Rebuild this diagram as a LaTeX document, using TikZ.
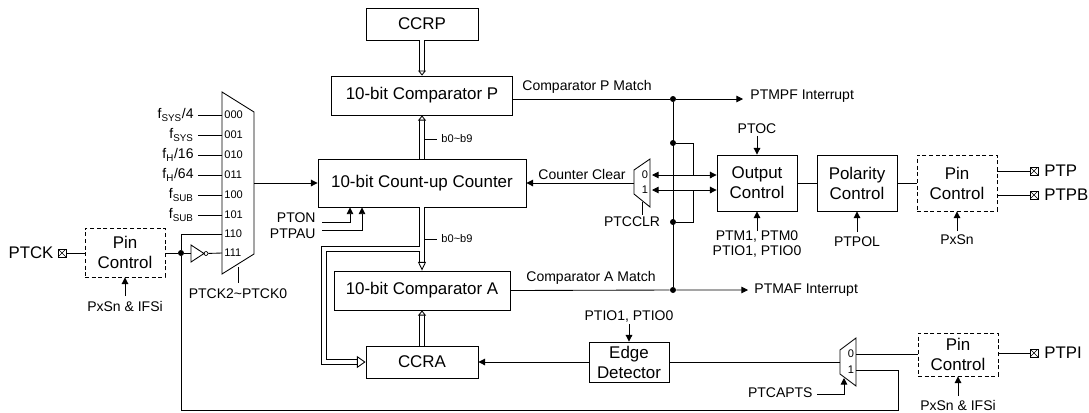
\documentclass[tikz,border=0pt]{standalone}
\usepackage{fontspec}
\setmainfont{Liberation Sans}
\usetikzlibrary{arrows.meta}
\tikzset{
  blk/.style 2 args={draw, font=\fontsize{12.7}{15}\selectfont, align=center, inner sep=0pt, minimum width=#1*0.75pt, minimum height=#2*0.75pt},
  pinbox/.style={blk={80}{#1}, dashed, dash pattern=on 3pt off 2pt},
  lbl/.style={font=\fontsize{10.5}{10.5}\selectfont, inner sep=0pt, align=center},
  bigl/.style={font=\fontsize{12.6}{14}\selectfont, inner sep=0pt},
  muxnum/.style={font=\fontsize{8.3}{9}\selectfont, inner sep=0pt},
  pad/.style={draw, minimum size=6pt, inner sep=0pt, line width=.5pt,
    path picture={\draw[line width=.4pt] (path picture bounding box.north west) -- (path picture bounding box.south east)
      (path picture bounding box.north east) -- (path picture bounding box.south west);}},
  dot/.style={circle, fill, inner sep=0pt, minimum size=4.5pt},
  wire/.style={-{Triangle[length=5pt,width=5pt]}},
  bus/.style 2 args={double, double distance=2.7pt, -{Triangle[open,fill=white,length=#1pt,width=#2pt,line width=.65pt]}}
}
\begin{document}
\begin{tikzpicture}[x=0.75pt, y=-0.75pt, line width=.65pt]
\useasboundingbox (0,0) rectangle (1089,412);
% blocks
\node[blk={112}{32}] (ccrp) at (422,24) {CCRP};
\node[blk={181}{39}] (cmpP) at (422,95.5) {10-bit Comparator P};
\node[blk={208}{48}] (ctr) at (422,183) {10-bit Count-up Counter};
\node[blk={176}{39}] (cmpA) at (422,290.5) {10-bit Comparator A};
\node[blk={112}{32}] (ccra) at (422,362) {CCRA};
\node[blk={80}{40}] (edge) at (629,362) {Edge\\Detector};
\node[blk={80}{56}] (outc) at (757,183) {Output\\Control};
\node[blk={80}{56}] (polc) at (857,183) {Polarity\\Control};
\node[pinbox=56] (pinO) at (957,183) {Pin\\Control};
\node[pinbox=43] (pinI) at (958,354.5) {Pin\\Control};
\node[pinbox=49] (pinC) at (125,252.5) {Pin\\Control};
% clock mux
\coordinate (mA) at (222,92); \coordinate (mB) at (254,112);
\coordinate (mC) at (254,254); \coordinate (mD) at (222,274);
\draw (mA) -- (mB) -- (mC) -- (mD) -- cycle;
\coordinate (mOut) at (254,183);
\draw[wire] (mOut) -- (ctr.west);
\foreach \yy/\sel/\txt in {115/000/{f\textsubscript{SYS}/4}, 135/001/{f\textsubscript{SYS}}, 155/010/{f\textsubscript{H}/16}, 175/011/{f\textsubscript{H}/64}, 195/100/{f\textsubscript{SUB}}, 215/101/{f\textsubscript{SUB}}}{
  \node[lbl, anchor=east] (clk\sel) at (194,\yy) {\txt};
  \coordinate (in\sel) at (222,\yy);
  \draw (198,\yy) -- (in\sel);
  \node[muxnum, anchor=west] (num\sel) at (224,\yy) {\sel};
}
\node[muxnum, anchor=west] (num110) at (224,234) {110};
\node[muxnum, anchor=west] (num111) at (224,253) {111};
\node[lbl] (ptck2) at (238,294) {PTCK2\textasciitilde PTCK0};
\draw (238,267) -- (238,283);
% PTCK input
\node[bigl] (ptckL) at (31,252.5) {PTCK};
\node[pad] (padC) at (62,253) {};
\node[dot] (jC) at (181,253) {};
\node[lbl] (ifsC) at (125,306) {PxSn \& IFSi};
\draw (padC) -- (padC -| pinC.west);
\draw (pinC.east |- jC) -- (jC) -- (191,253);
\draw (jC) -- (181,234) -- (222,234);
\draw (191,245) -- (204,253.5) -- (191,262) -- cycle;
\node[draw, circle, inner sep=0pt, minimum size=3pt, line width=.5pt] (bub) at (206,253.5) {};
\draw (bub) -- (222,253);
\draw[wire] (125,296) -- (pinC.south);
% return line
\coordinate (rA) at (181,410); \coordinate (rB) at (898,410);
\draw (jC) -- (rA) -- (rB) -- (898,370) -- (856,370);
% count enable
\node[lbl, anchor=east] (pton) at (316,218) {PTON};
\node[lbl, anchor=east] (ptpau) at (316,234) {PTPAU};
\draw[wire] (322,222) -- (350,222) -- (350,207.5);
\draw[wire] (322,230) -- (362,230) -- (362,207.5);
% buses
\draw[bus={3.8}{6}] (ccrp.south) -- (cmpP.north);
\draw[bus={3.8}{6}] (ctr.north) -- (cmpP.south);
\draw[bus={3.8}{6}] (ccra.north) -- (cmpA.south);
\draw[bus={6.5}{6}] (ctr.south) -- (cmpA.north);
\draw[bus={6.5}{9}] (420.4,249) -- (324,249) -- (324,362) -- (ccra.west);
\node[muxnum] (bUp) at (457,139) {b0\textasciitilde b9};
\node[muxnum] (bDn) at (457,239) {b0\textasciitilde b9};
\draw (424,139) -- (437,139);
\draw (424,239) -- (437,239);
% match lines
\node[dot] (jP) at (673,99) {};
\node[dot] (jA) at (673,290) {};
\node[dot] (jU) at (673,143) {};
\node[dot] (jD) at (673,222) {};
\node[lbl, anchor=west] (mtchP) at (522,87) {Comparator P Match};
\node[lbl, anchor=west] (mtchA) at (526,278) {Comparator A Match};
\node[lbl, anchor=west] (intP) at (750,96) {PTMPF Interrupt};
\node[lbl, anchor=west] (intA) at (754,290) {PTMAF Interrupt};
\coordinate (tipP) at (743,99); \coordinate (tipA) at (748,290);
\draw[wire] (cmpP.east |- jP) -- (jP) -- (tipP);
\draw[wire] (cmpA.east) -- (jA) -- (tipA);
\draw (jP) -- (jA);
% clear mux
\coordinate (cA) at (650,159); \coordinate (cB) at (650,207);
\coordinate (cC) at (634,194); \coordinate (cD) at (634,170);
\draw (cA) -- (cB) -- (cC) -- (cD) -- cycle;
\coordinate (cOut) at (634,183);
\draw[wire] (cOut) -- (ctr.east);
\node[lbl, anchor=west] (clrT) at (538,174) {Counter Clear};
\node[muxnum] (c0) at (645,175) {0};
\node[muxnum] (c1) at (645,190) {1};
\node[lbl] (ptcclr) at (632,222) {PTCCLR};
\draw (642,202) -- (642,215);
\coordinate (xU) at (693,175); \coordinate (xD) at (693,190);
\draw (jU) -- (693,143) -- (xU);
\draw (jD) -- (693,222) -- (xD);
\draw[wire] (xU) -- (652,175);
\draw[wire] (xD) -- (652,190);
\draw[wire] (xU) -- (outc.west |- xU);
\draw[wire] (xD) -- (outc.west |- xD);
% output path
\node[lbl] (ptoc) at (757,129) {PTOC};
\node[lbl] (ptm1) at (757,237) {PTM1, PTM0};
\node[lbl] (ptm2) at (757,251) {PTIO1, PTIO0};
\draw[wire] (757,136) -- (outc.north);
\draw[wire] (757,231) -- (outc.south);
\draw (outc.east) -- (polc.west);
\draw (polc.east) -- (pinO.west);
\node[lbl] (ptpol) at (857,242) {PTPOL};
\draw[wire] (857,232) -- (polc.south);
\node[lbl] (pxsn) at (957,240) {PxSn};
\draw[wire] (957,231) -- (pinO.south);
\node[pad] (padP) at (1034,171) {};
\node[pad] (padB) at (1034,195) {};
\node[bigl, anchor=west] (ptp) at (1044,171) {PTP};
\node[bigl, anchor=west] (ptpb) at (1044,195) {PTPB};
\draw (pinO.east |- padP) -- (padP);
\draw (pinO.east |- padB) -- (padB);
% capture path
\coordinate (kA) at (856,338); \coordinate (kB) at (856,386);
\coordinate (kC) at (840,374); \coordinate (kD) at (840,350);
\draw (kA) -- (kB) -- (kC) -- (kD) -- cycle;
\node[muxnum] (k0) at (851,354) {0};
\node[muxnum] (k1) at (851,370) {1};
\node[pad] (padI) at (1034,353) {};
\node[bigl, anchor=west] (ptpi) at (1044,353) {PTPI};
\draw (pinI.east |- padI) -- (padI);
\draw (856,354) -- (pinI.west |- 0,354);
\draw (840,362) -- (edge.east);
\draw[wire] (edge.west) -- (ccra.east);
\node[lbl] (ifsI) at (958,405) {PxSn \& IFSi};
\draw[wire] (958,396) -- (pinI.south);
\node[lbl, anchor=east] (capts) at (813,393) {PTCAPTS};
\draw[wire] (817,394) -- (844,394) -- (844,378);
\node[lbl] (ptio) at (629,316) {PTIO1, PTIO0};
\draw[wire] (629,324) -- (edge.north);
\end{tikzpicture}
\end{document}
